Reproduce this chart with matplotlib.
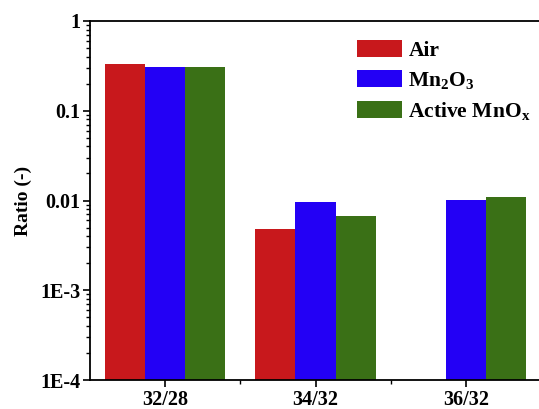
import matplotlib
matplotlib.use("Agg")
import matplotlib.pyplot as plt
import numpy as np
from matplotlib.ticker import FixedLocator, LogLocator, NullFormatter

categories = ["32/28", "34/32", "36/32"]
series_names = ["Air", r"Mn$_2$O$_3$", r"Active MnO$_x$"]
air = [0.33, 0.0047, np.nan]
mn2o3 = [0.31, 0.0096, 0.0100]
active_mnox = [0.31, 0.0067, 0.0109]
colors = ["#C8181C", "#2300F5", "#3A7016"]

ytick_values = [1e-4, 1e-3, 1e-2, 1e-1, 1]
ytick_labels = ["1E-4", "1E-3", "0.01", "0.1", "1"]

plt.rcParams["font.family"] = "Liberation Serif"
plt.rcParams["font.weight"] = "bold"
plt.rcParams["mathtext.fontset"] = "custom"
plt.rcParams["mathtext.rm"] = "Liberation Serif:bold"
plt.rcParams["mathtext.it"] = "Liberation Serif:bold"
plt.rcParams["mathtext.bf"] = "Liberation Serif:bold"
plt.rcParams["mathtext.default"] = "rm"

W, H = 539, 409
fig = plt.figure(figsize=(W / 100, H / 100), dpi=100)
ax = fig.add_axes([90 / W, 1 - 380 / H, (541 - 90) / W, (380 - 21) / H])

x = np.arange(1, len(categories) + 1)
width = 0.267
for i, (vals, name, col) in enumerate(zip([air, mn2o3, active_mnox], series_names, colors)):
    ax.bar(x + (i - 1) * width, vals, width, bottom=1e-4, color=col, label=name)

ax.set_yscale("log")
ax.set_ylim(1e-4, 1)
ax.set_xlim(0.5, 3.5)
ax.set_yticks(ytick_values)
ax.set_yticklabels(ytick_labels)
ax.yaxis.set_minor_locator(LogLocator(base=10, subs=np.arange(2, 10)))
ax.yaxis.set_minor_formatter(NullFormatter())
ax.set_xticks(x)
ax.set_xticklabels(categories)
ax.xaxis.set_minor_locator(FixedLocator([1.5, 2.5]))

ax.tick_params(axis="both", which="major", direction="out", length=5, width=1.2,
               labelsize=14.5, pad=2)
ax.tick_params(axis="both", which="minor", direction="out", length=3, width=1.0)
ax.tick_params(top=False, right=False)
for side in ["left", "bottom", "top"]:
    ax.spines[side].set_linewidth(1.3)
ax.spines["right"].set_visible(False)

ax.set_ylabel("Ratio (-)", fontsize=14, fontweight="bold", labelpad=6)

ax.legend(loc="upper left", bbox_to_anchor=(0.573, 0.972), frameon=False,
          fontsize=15.5, handlelength=2.09, handleheight=0.84, labelspacing=0.42,
          handletextpad=0.3, borderaxespad=0)

fig.savefig("out.png", dpi=100)
